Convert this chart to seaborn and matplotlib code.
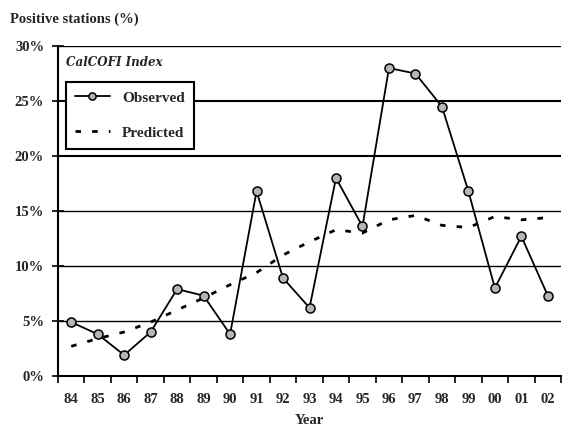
import matplotlib
matplotlib.use("Agg")
import matplotlib.pyplot as plt
import seaborn as sns
import pandas as pd
import numpy as np
from matplotlib.ticker import FixedLocator, FuncFormatter

years = ["84", "85", "86", "87", "88", "89", "90", "91", "92", "93",
         "94", "95", "96", "97", "98", "99", "00", "01", "02"]
observed = [4.9, 3.8, 1.9, 4.0, 7.9, 7.3, 3.8, 16.8, 8.9, 6.2,
            18.0, 13.6, 28.0, 27.5, 24.5, 16.8, 8.0, 12.7, 7.3]
predicted = [2.7, 3.4, 4.0, 4.9, 6.0, 7.1, 8.3, 9.4, 11.0, 12.2,
             13.3, 13.0, 14.2, 14.6, 13.7, 13.5, 14.5, 14.2, 14.4]

sns.set_theme(style="white")
plt.rcParams["font.family"] = ["Liberation Serif", "DejaVu Serif"]
plt.rcParams["font.weight"] = "bold"

df = pd.DataFrame({"idx": np.arange(len(years)), "Observed": observed,
                   "Predicted": predicted})

fig = plt.figure(figsize=(5.64, 4.37), dpi=100)
ax = fig.add_axes([0.1028, 0.1396, 0.892, 0.755])

# horizontal reference lines every 5%
for v in range(5, 31, 5):
    lw = 1.5 if v in (20, 25) else 1.0
    ax.axhline(v, color="black", lw=lw, zorder=0)

sns.lineplot(data=df, x="idx", y="Predicted", ax=ax, color="black",
             lw=2.0, linestyle=(0, (2, 4)), label="Predicted", zorder=2)
sns.lineplot(data=df, x="idx", y="Observed", ax=ax, color="black",
             lw=1.3, marker="o", markersize=6.5, markerfacecolor="#b5b5b5",
             markeredgecolor="black", markeredgewidth=1.1,
             label="Observed", zorder=3)

ax.set_xlim(-0.5, len(years) - 0.5)
ax.set_ylim(0, 30)

ax.set_xticks(np.arange(len(years)))
ax.set_xticklabels(years)
ax.xaxis.set_minor_locator(FixedLocator(np.arange(-0.5, len(years), 1.0)))
ax.tick_params(axis="x", which="major", length=0, pad=12, labelsize=10.5)
ax.tick_params(axis="x", which="minor", length=5, width=1.2, direction="out",
               bottom=True, color="black")

ax.set_yticks(range(0, 31, 5))
ax.yaxis.set_major_formatter(FuncFormatter(lambda v, p: f"{int(v)}%"))
ax.tick_params(axis="y", length=8, width=1.2, direction="inout", left=True,
               labelsize=10.5, color="black", pad=6)

for side in ("top", "right"):
    ax.spines[side].set_visible(False)
for side in ("left", "bottom"):
    ax.spines[side].set_visible(True)
    ax.spines[side].set_color("black")
    ax.spines[side].set_linewidth(1.5)

ax.set_xlabel("Year", fontsize=10.5, fontweight="bold", labelpad=6)
ax.set_ylabel("")
fig.text(0.018, 0.955, "Positive stations (%)", fontsize=10.5,
         fontweight="bold", ha="left", va="center")

ax.text(0.015, 0.95, "CalCOFI Index", transform=ax.transAxes, fontsize=8.6,
        family="DejaVu Serif", style="italic", weight="bold",
        ha="left", va="center")

handles, labels = ax.get_legend_handles_labels()
order = [labels.index("Observed"), labels.index("Predicted")]
leg = ax.legend([handles[i] for i in order], [labels[i] for i in order],
                loc="upper left", bbox_to_anchor=(0.0, 0.915),
                frameon=True, fancybox=False, edgecolor="black",
                fontsize=11, handlelength=2.3, labelspacing=1.4,
                borderpad=0.6, framealpha=1, markerscale=0.8)
leg.get_frame().set_linewidth(1.5)
leg.set_zorder(5)

fig.savefig("out.png", dpi=100)
